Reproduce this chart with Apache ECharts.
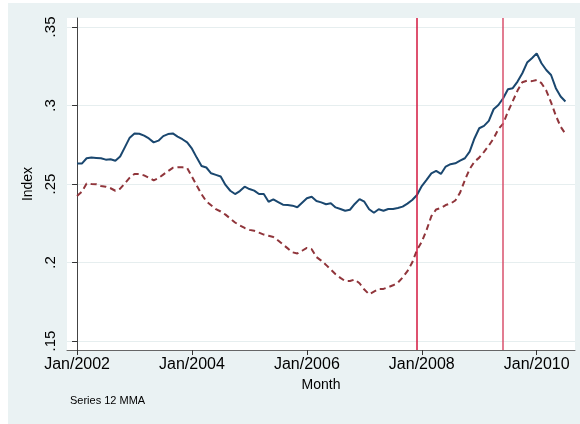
<!DOCTYPE html>
<html>
<head>
<meta charset="utf-8">
<title>Index</title>
<script src="https://cdn.jsdelivr.net/npm/echarts@6/dist/echarts.min.js"></script>
<style>
  body { margin: 0; background: #fff; }
  #bg { position: absolute; left: 8px; top: 3px; width: 572px; height: 421px; background: #eaf2f3; }
  #main { position: absolute; left: 0; top: 0; width: 580px; height: 424px; }
</style>
</head>
<body>
<div id="bg"></div>
<div id="main"></div>
<script>
// monthly values, Jan/2002 .. Jul/2010 (index 0 = Jan/2002)
var seriesSolid = [
  0.2630, 0.2630, 0.2664, 0.2668, 0.2666, 0.2664, 0.2655, 0.2658, 0.2648, 0.2675, 0.2735, 0.2795,
  0.2822, 0.2820, 0.2808, 0.2790, 0.2765, 0.2776, 0.2805, 0.2818, 0.2822, 0.2802, 0.2785, 0.2765,
  0.2725, 0.2668, 0.2615, 0.2605, 0.2568, 0.2558, 0.2548, 0.2494, 0.2457, 0.2436, 0.2455, 0.2483,
  0.2468, 0.2458, 0.2436, 0.2436, 0.2387, 0.2402, 0.2385, 0.2368, 0.2366, 0.2362, 0.2352, 0.2381,
  0.2409, 0.2419, 0.2392, 0.2383, 0.2371, 0.2377, 0.2351, 0.2341, 0.2330, 0.2336, 0.2373, 0.2404,
  0.2387, 0.2339, 0.2317, 0.2339, 0.2330, 0.2341, 0.2341, 0.2347, 0.2356, 0.2375, 0.2398, 0.2430,
  0.2487, 0.2526, 0.2568, 0.2583, 0.2564, 0.2611, 0.2626, 0.2632, 0.2649, 0.2664, 0.2706, 0.2790,
  0.2855, 0.2870, 0.2902, 0.2976, 0.3003, 0.3046, 0.3103, 0.3110, 0.3152, 0.3205, 0.3273, 0.3301,
  0.3332, 0.3269, 0.3226, 0.3194, 0.3110, 0.3057, 0.3025
];
var seriesDashed = [
  0.2423, 0.2451, 0.2503, 0.2500, 0.2498, 0.2487, 0.2483, 0.2473, 0.2457, 0.2470, 0.2505, 0.2540,
  0.2564, 0.2563, 0.2555, 0.2540, 0.2523, 0.2538, 0.2560, 0.2582, 0.2603, 0.2606, 0.2606, 0.2602,
  0.2547, 0.2490, 0.2435, 0.2390, 0.2365, 0.2340, 0.2325, 0.2305, 0.2280, 0.2255, 0.2236, 0.2220,
  0.2208, 0.2202, 0.2190, 0.2178, 0.2170, 0.2162, 0.2140, 0.2115, 0.2090, 0.2065, 0.2058, 0.2075,
  0.2093, 0.2085, 0.2035, 0.2012, 0.1985, 0.1955, 0.1925, 0.1902, 0.1882, 0.1882, 0.1892, 0.1868,
  0.1828, 0.1798, 0.1815, 0.1832, 0.1832, 0.1843, 0.1855, 0.1872, 0.1905, 0.1945, 0.2000, 0.2080,
  0.2132, 0.2207, 0.2295, 0.2338, 0.2347, 0.2366, 0.2375, 0.2395, 0.2445, 0.2525, 0.2595, 0.2642,
  0.2668, 0.2705, 0.2745, 0.2790, 0.2850, 0.2885, 0.2961, 0.3028, 0.3095, 0.3148, 0.3158, 0.3155,
  0.3162, 0.3142, 0.3095, 0.3020, 0.2935, 0.2865, 0.2819
];
var xTickMonths = [0, 24, 48, 72, 96];
var xTickLabels = ['Jan/2002', 'Jan/2004', 'Jan/2006', 'Jan/2008', 'Jan/2010'];
var yTicks = [0.15, 0.2, 0.25, 0.3, 0.35];
var yTickLabels = ['.15', '.2', '.25', '.3', '.35'];
var recessionMonths = [71, 89]; // Dec/2007, Jun/2009

var myChart = echarts.init(document.getElementById('main'));

function toPairs(arr) {
  return arr.map(function (v, i) { return [i, v]; });
}

var option = {
  animation: false,
  textStyle: { fontFamily: 'Liberation Sans, Arial, sans-serif' },
  grid: { left: 67, right: 5, top: 18, bottom: 74 },
  graphic: [
    { type: 'rect', left: 67, top: 18, shape: { width: 508, height: 332 }, style: { fill: '#fff' }, z: -10 },
    { type: 'text', left: 70, top: 395, style: { text: 'Series 12 MMA', fontSize: 11, fill: '#000', fontFamily: 'Liberation Sans, Arial, sans-serif' } }
  ],
  xAxis: {
    type: 'value',
    min: -2.1,
    max: 104,
    name: 'Month',
    nameLocation: 'middle',
    nameGap: 24,
    nameTextStyle: { fontSize: 14, color: '#000' },
    axisLine: { lineStyle: { color: '#666', width: 1 } },
    axisTick: { customValues: xTickMonths, length: 5, lineStyle: { color: '#333' } },
    axisLabel: {
      customValues: xTickMonths,
      fontSize: 16,
      color: '#000',
      margin: 7,
      formatter: function (v) { return xTickLabels[xTickMonths.indexOf(v)]; }
    },
    splitLine: { show: false }
  },
  yAxis: {
    type: 'value',
    min: 0.1443,
    max: 0.3557,
    name: 'Index',
    nameLocation: 'middle',
    nameGap: 32,
    nameTextStyle: { fontSize: 14, color: '#000' },
    axisLine: { show: true, lineStyle: { color: '#444', width: 1 } },
    axisTick: { show: true, customValues: yTicks, length: 5, lineStyle: { color: '#333' } },
    axisLabel: {
      customValues: yTicks,
      rotate: 90,
      fontSize: 15,
      color: '#000',
      margin: 9,
      formatter: function (v) { return yTickLabels[yTicks.indexOf(v)]; }
    },
    splitLine: { show: true, lineStyle: { color: '#e6eeef', width: 1 } }
  },
  series: [
    {
      name: 'Series',
      type: 'line',
      data: toPairs(seriesSolid),
      showSymbol: false,
      lineStyle: { color: '#1a476f', width: 2 },
      z: 3,
      markLine: {
        silent: true,
        symbol: 'none',
        label: { show: false },
        lineStyle: { type: 'solid', width: 1.5 },
        data: [
          { xAxis: recessionMonths[0], lineStyle: { color: '#d3173f' } },
          { xAxis: recessionMonths[1], lineStyle: { color: '#d9506c' } }
        ]
      }
    },
    {
      name: 'Series 12 MMA',
      type: 'line',
      data: toPairs(seriesDashed),
      showSymbol: false,
      lineStyle: { color: '#90353b', width: 2, type: [6, 4] },
      z: 3
    }
  ]
};

myChart.setOption(option);
</script>
</body>
</html>
